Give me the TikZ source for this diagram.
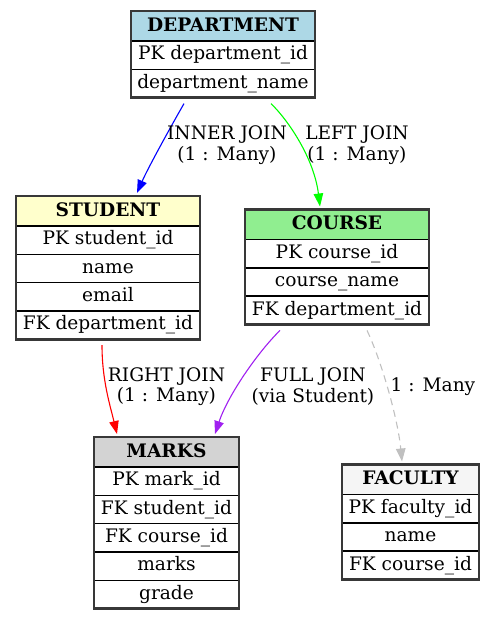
\documentclass[tikz,border=0pt]{standalone}
\usepackage{fontspec}
\setmainfont{DejaVu Serif}
\usetikzlibrary{arrows.meta}
\definecolor{hdept}{HTML}{ADD8E6}
\definecolor{hstud}{HTML}{FFFFCC}
\definecolor{hcourse}{HTML}{90EE90}
\definecolor{hmarks}{HTML}{D3D3D3}
\definecolor{hfac}{HTML}{F5F5F5}
\definecolor{ejoinblue}{HTML}{0000FF}
\definecolor{ejoingreen}{HTML}{00FF00}
\definecolor{ejoinred}{HTML}{FF0000}
\definecolor{ejoinpurple}{HTML}{A020F0}
\definecolor{ejoingray}{HTML}{C0C0C0}
\tikzset{
  txt/.style={font=\fontsize{18.6}{20.5}\selectfont, inner sep=0pt, text height=13.5pt, text depth=4pt, anchor=center},
  titletxt/.style={txt, font=\fontsize{18.6}{20.5}\selectfont\bfseries},
  edgelabel/.style={font=\fontsize{18.6}{20.5}\selectfont, align=center, inner sep=0pt},
  cellline/.style={line width=1.4pt, black},
  outerline/.style={line width=2.6pt, black!78},
  tablebox/.style={draw=none, inner sep=0pt, outer sep=0pt, rectangle},
  rel/.style={line width=1.1pt, -{Triangle[length=13pt,width=9.5pt]}},
}
% name, center x, top y, width, header colour, title, number of rows, rows
\newcommand\erdtable[8]{%
  \pgfmathsetmacro\erdhw{#4/2}%
  \pgfmathsetmacro\erdbot{#3+30+#7*28.3}%
  \pgfmathsetmacro\erdh{\erdbot-#3}%
  \pgfmathsetmacro\erdcy{(#3+\erdbot)/2}%
  \fill[#5] (#2-\erdhw,#3) rectangle (#2+\erdhw,#3+30);
  \node[titletxt] (#1-title) at (#2,#3+15.5) {#6};
  \foreach \r [count=\i] in {#8} {
    \draw[cellline] (#2-\erdhw,{#3+30+(\i-1)*28.3}) -- (#2+\erdhw,{#3+30+(\i-1)*28.3});
    \node[txt] at (#2,{#3+30+(\i-0.5)*28.3}) {\r};
  }
  \draw[outerline] (#2-\erdhw,#3) rectangle (#2+\erdhw,\erdbot);
  \node[tablebox, minimum width=#4pt, minimum height=\erdh pt] (#1) at (#2,\erdcy) {};
}
\begin{document}
\begin{tikzpicture}[x=1pt,y=-1pt]
\useasboundingbox (0,0) rectangle (495,619);
\erdtable{dept}{223}{11}{184}{hdept}{DEPARTMENT}{2}{PK department\_id, department\_name}
\erdtable{stud}{108}{196}{184}{hstud}{STUDENT}{4}{PK student\_id, name, email, FK department\_id}
\erdtable{course}{337}{209.5}{184}{hcourse}{COURSE}{3}{PK course\_id, course\_name, FK department\_id}
\erdtable{marks}{166.5}{437}{145}{hmarks}{MARKS}{5}{PK mark\_id, FK student\_id, FK course\_id, marks, grade}
\erdtable{fac}{410.5}{464.5}{137}{hfac}{FACULTY}{3}{PK faculty\_id, name, FK course\_id}

% connectors
\draw[rel, ejoinblue] ([xshift=-39pt,yshift=-6pt]dept.south) .. controls (170,128) and (148,168) .. ([xshift=29pt,yshift=3pt]stud.north);
\draw[rel, ejoingreen] ([xshift=48pt,yshift=-6pt]dept.south) .. controls (288,120) and (314,158) .. ([xshift=-17pt,yshift=3pt]course.north);
\draw[rel, ejoinred] ([xshift=-6pt,yshift=-6pt]stud.south) .. controls (102,380) and (110,405) .. ([xshift=-49.5pt,yshift=3pt]marks.north);
\draw[rel, ejoinpurple] ([xshift=-57pt,yshift=-6pt]course.south) .. controls (258,352) and (228,395) .. ([xshift=48.5pt,yshift=3pt]marks.north);
\draw[rel, ejoingray, dash pattern=on 7pt off 5pt] ([xshift=30pt,yshift=-6pt]course.south) .. controls (382,362) and (398,420) .. ([xshift=-8.5pt,yshift=3pt]fac.north);

% labels
\node[edgelabel] (l1) at (227,145) {INNER JOIN\\(1 : Many)};
\node[edgelabel] (l2) at (357,145) {LEFT JOIN\\(1 : Many)};
\node[edgelabel] (l3) at (166.5,386.5) {RIGHT JOIN\\(1 : Many)};
\node[edgelabel] (l4) at (313,386.5) {FULL JOIN\\(via Student)};
\node[edgelabel] (l5) at (433,386.5) {1 : Many};
\end{tikzpicture}
\end{document}
